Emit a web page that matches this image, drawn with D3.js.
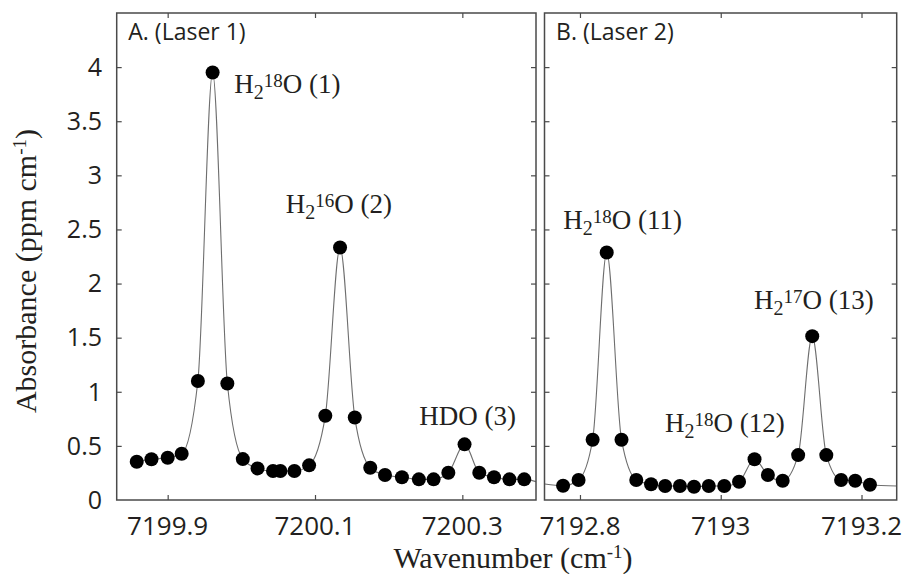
<!DOCTYPE html>
<html>
<head>
<meta charset="utf-8">
<script src="https://cdn.jsdelivr.net/npm/d3@7"></script>
<style>
  body { margin: 0; background: #fff; }
  svg { display: block; }
</style>
</head>
<body>
<svg id="chart" width="902" height="574"></svg>
<script>
// ---------- data ----------
const wavenumberA = [7199.858, 7199.878, 7199.900, 7199.919, 7199.941, 7199.961, 7199.981, 7200.002,
  7200.022, 7200.043, 7200.053, 7200.072, 7200.092, 7200.114, 7200.134, 7200.154, 7200.175, 7200.195,
  7200.218, 7200.241, 7200.261, 7200.281, 7200.303, 7200.323, 7200.343, 7200.364, 7200.384];
const absorbanceA = [0.354, 0.376, 0.39, 0.427, 1.10, 3.95, 1.077, 0.378,
  0.292, 0.268, 0.268, 0.268, 0.32, 0.778, 2.333, 0.763, 0.298, 0.231,
  0.21, 0.191, 0.191, 0.252, 0.514, 0.252, 0.21, 0.191, 0.191];

const wavenumberB = [7192.776, 7192.798, 7192.818, 7192.838, 7192.859, 7192.880, 7192.901, 7192.921,
  7192.942, 7192.962, 7192.983, 7193.005, 7193.026, 7193.048, 7193.067, 7193.088, 7193.110, 7193.130,
  7193.150, 7193.171, 7193.191, 7193.212];
const absorbanceB = [0.132, 0.185, 0.557, 2.287, 0.557, 0.185, 0.145, 0.129,
  0.129, 0.123, 0.129, 0.129, 0.169, 0.376, 0.231, 0.178, 0.415, 1.514,
  0.415, 0.185, 0.178, 0.141];

// fitted-line end values at the panel edges
const fitStartA = null;               // line starts at first point
const fitEndA = [7200.40, 0.17];
const fitStartB = [7192.75, 0.148];
const fitEndB = [7193.25, 0.129];

const xDomainA = [7199.8308, 7200.40];
const xDomainB = [7192.7496, 7193.25];
const yDomain = [0, 4.5];
const xTicksA = [7199.9, 7200.1, 7200.3];
const xTicksB = [7192.8, 7193.0, 7193.2];
const yTicks = [0, 0.5, 1, 1.5, 2, 2.5, 3, 3.5, 4];

const panelTitles = ["A. (Laser 1)", "B. (Laser 2)"];
// annotation labels: [base, subscript, superscript, rest], anchored at label start / baseline
const labelsA = [
  { parts: ["H", "2", "18", "O (1)"], x: 7199.9905, y: 3.758 },
  { parts: ["H", "2", "16", "O (2)"], x: 7200.0602, y: 2.649 },
  { parts: ["HDO (3)", "", "", ""], x: 7200.2416, y: 0.693 }
];
const labelsB = [
  { parts: ["H", "2", "18", "O (11)"], x: 7192.7763, y: 2.501 },
  { parts: ["H", "2", "18", "O (12)"], x: 7192.9208, y: 0.631 },
  { parts: ["H", "2", "17", "O (13)"], x: 7193.0473, y: 1.762 }
];

// ---------- layout ----------
const svg = d3.select("#chart");
const plotTop = 13, plotBottom = 500;
const y = d3.scaleLinear().domain(yDomain).range([plotBottom, plotTop]);

const panels = [
  { left: 116.7, right: 536, xd: xDomainA, ticks: xTicksA, wn: wavenumberA, ab: absorbanceA,
    start: fitStartA, end: fitEndA, title: panelTitles[0], labels: labelsA, showY: true },
  { left: 544.5, right: 896.7, xd: xDomainB, ticks: xTicksB, wn: wavenumberB, ab: absorbanceB,
    start: fitStartB, end: fitEndB, title: panelTitles[1], labels: labelsB, showY: false }
];

const frameColor = "#4a4a4a";
const textColor = "#231f20";
const sansFont = "'Open Sans', 'Noto Sans', sans-serif";
const serifFont = "'Liberation Serif', 'DejaVu Serif', serif";
const tickLen = 5;

panels.forEach(p => {
  const x = d3.scaleLinear().domain(p.xd).range([p.left, p.right]);
  const g = svg.append("g");

  // clip
  const cid = "clip" + Math.round(p.left);
  svg.append("clipPath").attr("id", cid).append("rect")
    .attr("x", p.left).attr("y", plotTop).attr("width", p.right - p.left).attr("height", plotBottom - plotTop);

  // fitted line
  const linePts = p.wn.map((w, i) => [w, p.ab[i]]);
  if (p.start) linePts.unshift(p.start);
  if (p.end) linePts.push(p.end);
  const line = d3.line().x(d => x(d[0])).y(d => y(d[1])).curve(d3.curveMonotoneX);
  g.append("path").datum(linePts)
    .attr("clip-path", `url(#${cid})`)
    .attr("d", line).attr("fill", "none")
    .attr("stroke", "#6e6e6e").attr("stroke-width", 1.1);

  // points
  g.selectAll("circle.pt").data(p.wn).enter().append("circle")
    .attr("class", "pt")
    .attr("cx", d => x(d)).attr("cy", (d, i) => y(p.ab[i]))
    .attr("r", 7).attr("fill", "#000");

  // axes (ticks inward, on all four sides)
  const axB = d3.axisTop(x).tickValues(p.ticks).tickSize(tickLen).tickFormat("");
  const axT = d3.axisBottom(x).tickValues(p.ticks).tickSize(tickLen).tickFormat("");
  const axL = d3.axisRight(y).tickValues(yTicks.filter(v => v > 0)).tickSize(tickLen).tickFormat("");
  const axR = d3.axisLeft(y).tickValues(yTicks.filter(v => v > 0)).tickSize(tickLen).tickFormat("");
  [[axB, `translate(0,${plotBottom})`], [axT, `translate(0,${plotTop})`],
   [axL, `translate(${p.left},0)`], [axR, `translate(${p.right},0)`]].forEach(([ax, tr]) => {
    const a = g.append("g").attr("transform", tr).call(ax);
    a.select(".domain").remove();
    a.selectAll("line").attr("stroke", frameColor).attr("stroke-width", 1.2);
  });

  // frame
  g.append("rect").attr("x", p.left).attr("y", plotTop)
    .attr("width", p.right - p.left).attr("height", plotBottom - plotTop)
    .attr("fill", "none").attr("stroke", frameColor).attr("stroke-width", 1.5);

  // x tick labels
  g.selectAll("text.xt").data(p.ticks).enter().append("text")
    .attr("class", "xt")
    .attr("x", d => x(d)).attr("y", 535)
    .attr("text-anchor", "middle")
    .attr("font-family", sansFont).attr("font-size", 26).attr("fill", textColor)
    .text(d => d3.format("")(+d.toFixed(1)));

  // y tick labels
  if (p.showY) {
    g.selectAll("text.yt").data(yTicks).enter().append("text")
      .attr("class", "yt")
      .attr("x", 102).attr("y", d => y(d))
      .attr("dy", "0.35em")
      .attr("text-anchor", "end")
      .attr("font-family", sansFont).attr("font-size", 25).attr("fill", textColor)
      .text(d => d);
  }

  // panel title
  g.append("text").attr("x", p.left + 11.6).attr("y", 40)
    .attr("font-family", sansFont).attr("font-size", 23).attr("fill", textColor)
    .text(p.title);

  // annotations
  p.labels.forEach(l => {
    const t = g.append("text").attr("x", x(l.x)).attr("y", y(l.y))
      .attr("font-family", serifFont).attr("font-size", 27).attr("fill", textColor);
    t.append("tspan").text(l.parts[0]);
    if (l.parts[1]) {
      t.append("tspan").attr("font-size", 20).attr("dy", 6).text(l.parts[1]);
      t.append("tspan").attr("font-size", 19).attr("dy", -12).text(l.parts[2]);
      t.append("tspan").attr("dy", 6).text(l.parts[3]);
    }
  });
});

// axis titles
const xt = svg.append("text").attr("x", 513).attr("y", 568)
  .attr("text-anchor", "middle")
  .attr("font-family", serifFont).attr("font-size", 30).attr("fill", textColor);
xt.append("tspan").text("Wavenumber (cm");
xt.append("tspan").attr("font-size", 19).attr("dy", -10).text("-1");
xt.append("tspan").attr("dy", 10).text(")");

const yt = svg.append("text")
  .attr("transform", "translate(36,271) rotate(-90)")
  .attr("text-anchor", "middle")
  .attr("font-family", serifFont).attr("font-size", 30).attr("fill", textColor);
yt.append("tspan").text("Absorbance (ppm cm");
yt.append("tspan").attr("font-size", 19).attr("dy", -10).text("-1");
yt.append("tspan").attr("dy", 10).text(")");
</script>
</body>
</html>
